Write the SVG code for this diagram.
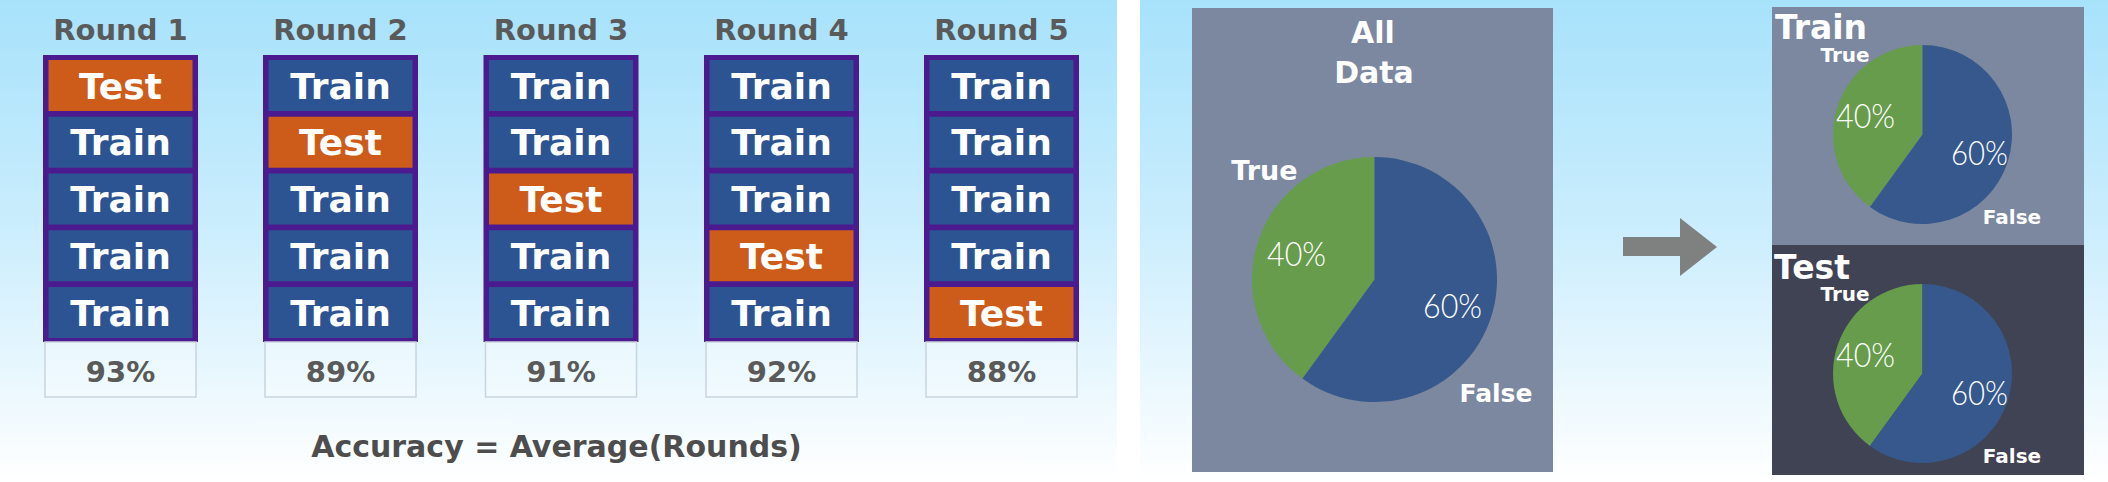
<svg xmlns="http://www.w3.org/2000/svg" width="2108" height="482" viewBox="0 0 2108 482">
<defs>
<linearGradient id="bg" x1="0" y1="0" x2="0" y2="1">
<stop offset="0" stop-color="#a7e2fb"/>
<stop offset="0.5" stop-color="#cdeefd"/>
<stop offset="1" stop-color="#ffffff"/>
</linearGradient>
</defs>
<style>
.b{font-family:"DejaVu Sans","Liberation Sans",sans-serif;font-weight:bold;text-anchor:middle}
.lbl{font-size:29px;fill:#5a5a5a}
.cell{font-size:36px;fill:#ffffff}
.pct{font-size:29px;fill:#5a5a5a}
.frame{fill:#4c1a8f}
.tr{fill:#2c5392}
.te{fill:#cd5c1a}
.pbox{fill:#ffffff;fill-opacity:0.25;stroke:#c9d4dc;stroke-width:1.5}
.w{fill:#ffffff}
.lt{font-family:Lato,"Open Sans",sans-serif;font-weight:300;font-size:34px;fill:#ffffff}
.g{fill:#679c4c}
.bl{fill:#37588c}
</style>
<rect x="0" y="0" width="2108" height="482" fill="url(#bg)"/>
<rect x="1117" y="0" width="23" height="482" fill="#ffffff"/>

<g id="round1">
<text class="b lbl" x="120.5" y="40">Round 1</text>
<rect class="frame" x="43" y="55" width="155" height="287"/>
<rect class="te" x="48.5" y="60" width="144" height="51"/><text class="b cell" x="120.5" y="98.5">Test</text>
<rect class="tr" x="48.5" y="116.75" width="144" height="51"/><text class="b cell" x="120.5" y="155.25">Train</text>
<rect class="tr" x="48.5" y="173.5" width="144" height="51"/><text class="b cell" x="120.5" y="212">Train</text>
<rect class="tr" x="48.5" y="230.25" width="144" height="51"/><text class="b cell" x="120.5" y="268.75">Train</text>
<rect class="tr" x="48.5" y="287" width="144" height="51"/><text class="b cell" x="120.5" y="325.5">Train</text>
<rect class="pbox" x="45" y="342" width="151" height="55"/><text class="b pct" x="120.5" y="382">93%</text>
</g>

<g id="round2">
<text class="b lbl" x="340.5" y="40">Round 2</text>
<rect class="frame" x="263" y="55" width="155" height="287"/>
<rect class="tr" x="268.5" y="60" width="144" height="51"/><text class="b cell" x="340.5" y="98.5">Train</text>
<rect class="te" x="268.5" y="116.75" width="144" height="51"/><text class="b cell" x="340.5" y="155.25">Test</text>
<rect class="tr" x="268.5" y="173.5" width="144" height="51"/><text class="b cell" x="340.5" y="212">Train</text>
<rect class="tr" x="268.5" y="230.25" width="144" height="51"/><text class="b cell" x="340.5" y="268.75">Train</text>
<rect class="tr" x="268.5" y="287" width="144" height="51"/><text class="b cell" x="340.5" y="325.5">Train</text>
<rect class="pbox" x="265" y="342" width="151" height="55"/><text class="b pct" x="340.5" y="382">89%</text>
</g>

<g id="round3">
<text class="b lbl" x="561" y="40">Round 3</text>
<rect class="frame" x="483.5" y="55" width="155" height="287"/>
<rect class="tr" x="489" y="60" width="144" height="51"/><text class="b cell" x="561" y="98.5">Train</text>
<rect class="tr" x="489" y="116.75" width="144" height="51"/><text class="b cell" x="561" y="155.25">Train</text>
<rect class="te" x="489" y="173.5" width="144" height="51"/><text class="b cell" x="561" y="212">Test</text>
<rect class="tr" x="489" y="230.25" width="144" height="51"/><text class="b cell" x="561" y="268.75">Train</text>
<rect class="tr" x="489" y="287" width="144" height="51"/><text class="b cell" x="561" y="325.5">Train</text>
<rect class="pbox" x="485.5" y="342" width="151" height="55"/><text class="b pct" x="561" y="382">91%</text>
</g>

<g id="round4">
<text class="b lbl" x="781.5" y="40">Round 4</text>
<rect class="frame" x="704" y="55" width="155" height="287"/>
<rect class="tr" x="709.5" y="60" width="144" height="51"/><text class="b cell" x="781.5" y="98.5">Train</text>
<rect class="tr" x="709.5" y="116.75" width="144" height="51"/><text class="b cell" x="781.5" y="155.25">Train</text>
<rect class="tr" x="709.5" y="173.5" width="144" height="51"/><text class="b cell" x="781.5" y="212">Train</text>
<rect class="te" x="709.5" y="230.25" width="144" height="51"/><text class="b cell" x="781.5" y="268.75">Test</text>
<rect class="tr" x="709.5" y="287" width="144" height="51"/><text class="b cell" x="781.5" y="325.5">Train</text>
<rect class="pbox" x="706" y="342" width="151" height="55"/><text class="b pct" x="781.5" y="382">92%</text>
</g>

<g id="round5">
<text class="b lbl" x="1001.5" y="40">Round 5</text>
<rect class="frame" x="924" y="55" width="155" height="287"/>
<rect class="tr" x="929.5" y="60" width="144" height="51"/><text class="b cell" x="1001.5" y="98.5">Train</text>
<rect class="tr" x="929.5" y="116.75" width="144" height="51"/><text class="b cell" x="1001.5" y="155.25">Train</text>
<rect class="tr" x="929.5" y="173.5" width="144" height="51"/><text class="b cell" x="1001.5" y="212">Train</text>
<rect class="tr" x="929.5" y="230.25" width="144" height="51"/><text class="b cell" x="1001.5" y="268.75">Train</text>
<rect class="te" x="929.5" y="287" width="144" height="51"/><text class="b cell" x="1001.5" y="325.5">Test</text>
<rect class="pbox" x="926" y="342" width="151" height="55"/><text class="b pct" x="1001.5" y="382">88%</text>
</g>

<g id="accuracy">
<text class="b" x="556.5" y="457" font-size="30" fill="#4d4d4d">Accuracy = Average(Rounds)</text>
</g>

<g id="alldata">
<rect x="1192" y="8" width="361" height="464" fill="#7b88a0"/>
<text class="b w" x="1373" y="43" font-size="30">All</text>
<text class="b w" x="1374" y="83" font-size="30">Data</text>
<path class="g" d="M1374.5 279.5 L1374.5 157 A122.5 122.5 0 0 0 1302.5 378.6 Z"/>
<path class="bl" d="M1374.5 279.5 L1374.5 157 A122.5 122.5 0 1 1 1302.5 378.6 Z"/>
<text class="b w" x="1264.5" y="180" font-size="27">True</text>
<text class="lt" x="1267" y="266" textLength="59" lengthAdjust="spacingAndGlyphs">40%</text>
<text class="lt" x="1423" y="318" textLength="59" lengthAdjust="spacingAndGlyphs">60%</text>
<text class="b w" x="1496" y="402" font-size="25">False</text>
</g>

<g id="connectors">
<polygon points="1623,237 1680,237 1680,218 1717,247 1680,276 1680,256 1623,256" fill="#7f8181"/>
</g>

<g id="train">
<rect x="1772" y="7" width="312" height="238" fill="#7b88a0"/>
<text class="b w" x="1821" y="39" font-size="33">Train</text>
<path class="g" d="M1922.5 134.5 L1922.5 45 A89.5 89.5 0 0 0 1869.9 206.9 Z"/>
<path class="bl" d="M1922.5 134.5 L1922.5 45 A89.5 89.5 0 1 1 1869.9 206.9 Z"/>
<text class="b w" x="1845" y="62" font-size="20">True</text>
<text class="lt" x="1836" y="128" textLength="59" lengthAdjust="spacingAndGlyphs">40%</text>
<text class="lt" x="1951" y="165" textLength="57" lengthAdjust="spacingAndGlyphs">60%</text>
<text class="b w" x="2012" y="224" font-size="20">False</text>
</g>

<g id="test">
<rect x="1772" y="245" width="312" height="230" fill="#404354"/>
<text class="b w" x="1812" y="279" font-size="33">Test</text>
<path class="g" d="M1922.5 373.5 L1922.5 284 A89.5 89.5 0 0 0 1869.9 445.9 Z"/>
<path class="bl" d="M1922.5 373.5 L1922.5 284 A89.5 89.5 0 1 1 1869.9 445.9 Z"/>
<text class="b w" x="1845" y="301" font-size="20">True</text>
<text class="lt" x="1836" y="367" textLength="59" lengthAdjust="spacingAndGlyphs">40%</text>
<text class="lt" x="1951" y="405" textLength="57" lengthAdjust="spacingAndGlyphs">60%</text>
<text class="b w" x="2012" y="463" font-size="20">False</text>
</g>
</svg>
